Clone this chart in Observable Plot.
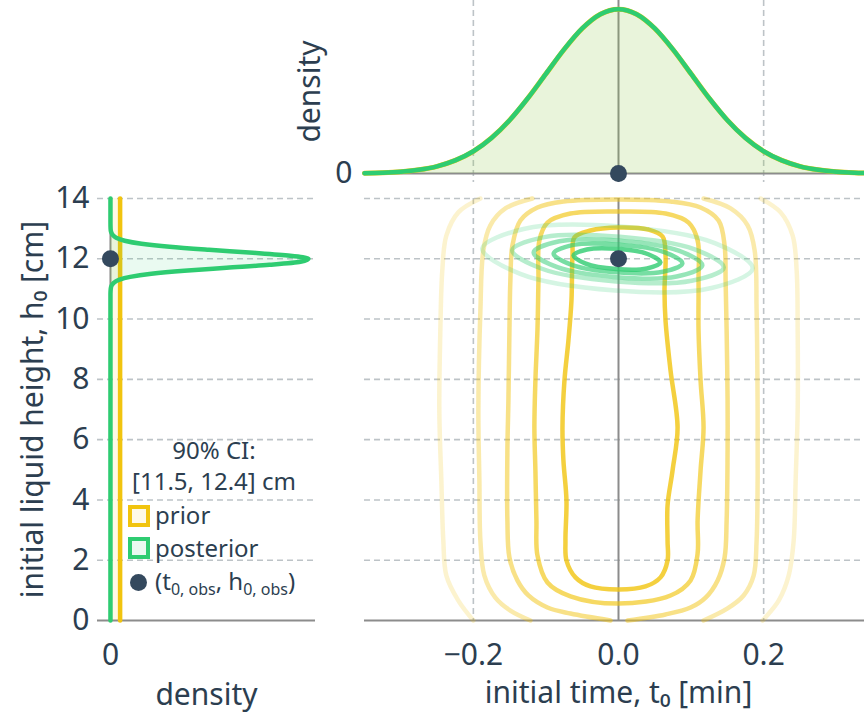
<!DOCTYPE html>
<html><head><meta charset="utf-8">
<script src="https://cdn.jsdelivr.net/npm/d3@7"></script>
<script src="https://cdn.jsdelivr.net/npm/@observablehq/plot@0.6"></script>
<style>
html,body{margin:0;padding:0;background:#fff;overflow:hidden;}
#wrap{position:relative;width:864px;height:717px;font-family:"Noto Sans",sans-serif;color:#2c3e50;}
#wrap svg{position:absolute;left:0;top:0;}
.lg{position:absolute;font-size:24px;line-height:1;white-space:nowrap;transform:translateY(-50%);}
.lgc{position:absolute;font-size:24px;line-height:1;white-space:nowrap;transform:translate(-50%,-50%);}
.sq{position:absolute;width:14px;height:14px;border:4px solid;}
.lg sub{font-size:16px;vertical-align:-5px;}
</style></head><body><div id="wrap"></div>
<script>
// ---------- data ----------
const tTicks = [-0.2, 0.0, 0.2];
const hTicks = [0, 2, 4, 6, 8, 10, 12, 14];
const densTicks = [0];
const obsT = 0.0, obsH = 12.0;
const ciLow = 11.5, ciHigh = 12.4;

// marginal density of t0 (prior and posterior coincide)
const tGrid = [-0.35,-0.325,-0.3,-0.275,-0.25,-0.225,-0.2,-0.175,-0.15,-0.125,-0.1,-0.075,-0.05,-0.025,0,
               0.025,0.05,0.075,0.1,0.125,0.15,0.175,0.2,0.225,0.25,0.275,0.3,0.325,0.35];
const tPrior = [0.009,0.020,0.044,0.091,0.175,0.318,0.540,0.863,1.295,1.827,2.420,3.012,3.521,3.867,3.99,
                3.867,3.521,3.012,2.420,1.827,1.295,0.863,0.540,0.318,0.175,0.091,0.044,0.020,0.009];
const tPosterior = [0.009,0.020,0.044,0.091,0.175,0.318,0.540,0.863,1.295,1.827,2.420,3.012,3.521,3.867,3.99,
                3.867,3.521,3.012,2.420,1.827,1.295,0.863,0.540,0.318,0.175,0.091,0.044,0.020,0.009];

// marginal density of h0
const hPriorGrid = [0, 14];
const hPriorDens = [0.0714, 0.0714];
const hPostGrid = [0,10.8,10.9,11.0,11.1,11.2,11.3,11.4,11.5,11.6,11.7,11.8,11.9,12.0,12.1,12.2,12.3,12.4,12.5,12.6,12.7,12.8,12.9,13.0,13.2,14];
const hPostDens = [0,0,0.0005,0.002,0.007,0.023,0.062,0.146,0.303,0.546,0.859,1.177,1.407,1.466,1.331,1.055,0.729,0.438,0.230,0.105,0.042,0.015,0.004,0.001,0,0];

// prior joint-density contours (outer -> inner), [t0, h0]
const prior1L = [[-0.1903,14],[-0.2207,13.54],[-0.2372,12.77],[-0.2428,11.61],[-0.2455,9.62],[-0.2469,6.97],[-0.2441,4.64],[-0.2414,2.65],[-0.2372,1.49],[-0.2207,0.66],[-0.2,0]];
const prior1R = [[0.1959,14],[0.2234,13.54],[0.24,12.77],[0.2455,11.61],[0.2469,9.62],[0.2469,6.97],[0.2441,4.64],[0.2414,2.65],[0.2345,1.49],[0.2207,0.66],[0.1986,0]];
const prior2L = [[-0.1186,14],[-0.1559,13.67],[-0.1766,13.11],[-0.1862,12.28],[-0.1903,10.29],[-0.1931,6.97],[-0.1917,4.64],[-0.1903,2.65],[-0.1848,1.49],[-0.1697,0.76],[-0.149,0.33],[-0.1214,0]];
const prior2R = [[0.1172,14],[0.1545,13.67],[0.1779,13.11],[0.1876,12.28],[0.1903,10.29],[0.1917,6.97],[0.1917,4.64],[0.1903,2.65],[0.1862,1.49],[0.1724,0.83],[0.1503,0.40],[0.1172,0]];
const prior3 = [[-0.011,0],[-0.0662,0.23],[-0.0979,0.43],[-0.1241,0.83],[-0.1393,1.33],[-0.1503,2.09],[-0.1531,3.32],[-0.1531,5.64],[-0.1517,7.30],[-0.1503,9.62],[-0.149,11.28],[-0.1462,12.44],[-0.1352,13.27],[-0.1117,13.70],[-0.0759,13.90],[0,13.97],[0.0717,13.90],[0.1131,13.70],[0.1379,13.27],[0.1462,12.44],[0.1476,11.28],[0.149,9.62],[0.1503,7.30],[0.1503,5.64],[0.149,3.32],[0.1462,2.09],[0.1366,1.33],[0.12,0.76],[0.0993,0.43],[0.0648,0.20],[0.0124,0]];
const prior4 = [[0,13.57],[0.0648,13.50],[0.0966,13.20],[0.109,12.61],[0.1103,11.28],[0.1103,9.62],[0.1131,7.96],[0.1172,6.40],[0.1131,4.98],[0.109,3.32],[0.109,2.22],[0.0993,1.33],[0.0717,0.83],[0,0.56],[-0.0662,0.80],[-0.0979,1.26],[-0.1117,2.16],[-0.1131,3.32],[-0.1145,4.98],[-0.1159,6.40],[-0.1145,7.96],[-0.1117,9.62],[-0.1103,11.28],[-0.109,12.61],[-0.0979,13.20],[-0.0662,13.50]];
const prior5 = [[0,13.04],[0.0414,12.97],[0.0607,12.74],[0.0648,12.11],[0.0634,10.95],[0.0648,9.95],[0.0717,8.29],[0.0814,6.40],[0.0745,4.98],[0.0676,3.82],[0.0676,2.65],[0.0676,1.99],[0.0579,1.43],[0.0372,1.13],[0,1.03],[-0.0386,1.13],[-0.0593,1.43],[-0.0717,1.99],[-0.0731,2.65],[-0.0717,3.98],[-0.0759,5.31],[-0.0772,6.40],[-0.0745,7.96],[-0.069,9.29],[-0.0648,10.62],[-0.0634,12.11],[-0.0607,12.71],[-0.0386,12.94]];

// posterior joint-density contours (outer -> inner)
const post1 = [[0.1849,11.68],[0.1281,11.03],[-0.0046,10.95],[-0.1354,11.50],[-0.1877,12.34],[-0.1309,12.99],[0.0018,13.07],[0.1327,12.52]];
const post2 = [[0.1451,11.71],[0.1007,11.27],[-0.0032,11.25],[-0.1055,11.67],[-0.1465,12.28],[-0.1021,12.72],[0.0018,12.73],[0.1041,12.32]];
const post3 = [[0.1155,11.78],[0.0801,11.41],[-0.0026,11.39],[-0.0843,11.72],[-0.1169,12.21],[-0.0815,12.58],[0.0012,12.60],[0.0829,12.27]];
const post4 = [[0.0880,11.85],[0.0610,11.57],[-0.0022,11.55],[-0.0644,11.80],[-0.0894,12.17],[-0.0623,12.46],[0.0008,12.47],[0.0630,12.22]];
const post5 = [[0.0578,11.88],[0.0394,11.68],[-0.0032,11.66],[-0.0451,11.84],[-0.0619,12.11],[-0.0436,12.31],[-0.0010,12.33],[0.0410,12.15]];

const levelOpacity = [0.2, 0.35, 0.5, 0.65, 0.8];

(function () {
// ---------- style ----------
const YELLOW = "#f1c40f", GREEN = "#2ecc71", DOT = "#34495e", TEXT = "#2c3e50";
const GRID = "#bdc3c7", ZERO = "#8c8c8c";
const FONT = "'Noto Sans', sans-serif";
const FS = 30;
const LW = 4.5;
const W = 864, H = 717;
const dashed = {stroke: GRID, strokeWidth: 1.6, strokeDasharray: "6,4"};
const zero = {stroke: ZERO, strokeWidth: 2};
const baseStyle = {background: "transparent", fontFamily: FONT, color: TEXT};
const title = {fontSize: FS, fill: TEXT, textAnchor: "middle", lineAnchor: "middle"};

const rows = (pts, id, op) => pts.map(([t, h]) => ({t, h, id, op}));
const openPrior = [
  ...rows(prior1L, "1L", levelOpacity[0]), ...rows(prior1R, "1R", levelOpacity[0]),
  ...rows(prior2L, "2L", levelOpacity[1]), ...rows(prior2R, "2R", levelOpacity[1]),
  ...rows(prior3, "3", levelOpacity[2])
];
const closedPrior = [...rows(prior4, "4", levelOpacity[3]), ...rows(prior5, "5", levelOpacity[4])];
const closedPost = [post1, post2, post3, post4, post5].flatMap((p, i) => rows(p, "g" + i, levelOpacity[i]));

const tPriorRows = tGrid.map((t, i) => ({t, d: tPrior[i]}));
const tPostRows = tGrid.map((t, i) => ({t, d: tPosterior[i]}));
const hPriorRows = hPriorGrid.map((h, i) => ({h, d: hPriorDens[i]}));
const hPostRows = hPostGrid.map((h, i) => ({h, d: hPostDens[i]}));
const fmt1 = d3.format(".1f");
const fmt0 = d3.format("d");

// ---------- main joint plot ----------
const mainPlot = Plot.plot({
  width: W, height: H,
  marginLeft: 364, marginRight: -8, marginTop: 198, marginBottom: 97,
  style: baseStyle,
  opacity: {type: "identity"},
  x: {domain: [-0.35, 0.35]},
  y: {domain: [0, 14], axis: null},
  marks: [
    Plot.ruleY(hTicks.filter(v => v !== 0), dashed),
    Plot.ruleX(tTicks.filter(v => v !== 0), dashed),
    Plot.ruleX([0], zero),
    Plot.ruleY([0], zero),
    Plot.line(openPrior, {x: "t", y: "h", z: "id", stroke: YELLOW, strokeOpacity: "op", strokeWidth: LW, curve: "catmull-rom"}),
    Plot.line(closedPrior, {x: "t", y: "h", z: "id", stroke: YELLOW, strokeOpacity: "op", strokeWidth: LW, curve: "catmull-rom-closed"}),
    Plot.line(closedPost, {x: "t", y: "h", z: "id", stroke: GREEN, strokeOpacity: "op", strokeWidth: LW, curve: "catmull-rom-closed"}),
    Plot.dot([{t: obsT, h: obsH}], {x: "t", y: "h", r: 8.5, fill: DOT}),
    Plot.axisX(tTicks, {tickSize: 0, tickPadding: 23, fontSize: FS, tickFormat: fmt1, label: null}),
    Plot.text(["initial time, t₀ [min]"], {frameAnchor: "bottom", dy: 73, ...title})
  ]
});

// ---------- top marginal (t0) ----------
const topPlot = Plot.plot({
  width: W, height: H,
  marginLeft: 364, marginRight: -8, marginTop: 0, marginBottom: H - 182,
  style: baseStyle,
  x: {domain: [-0.35, 0.35], axis: null},
  y: {domain: [-0.218, 4.2]},
  marks: [
    Plot.ruleX(tTicks.filter(v => v !== 0), dashed),
    Plot.ruleX([0], zero),
    Plot.ruleY([0], zero),
    Plot.areaY(tPriorRows, {x: "t", y: "d", fill: YELLOW, fillOpacity: 0.1, curve: "monotone-x"}),
    Plot.areaY(tPostRows, {x: "t", y: "d", fill: GREEN, fillOpacity: 0.1, curve: "monotone-x"}),
    Plot.lineY(tPriorRows, {x: "t", y: "d", stroke: YELLOW, strokeWidth: LW + 0.5, curve: "monotone-x"}),
    Plot.lineY(tPostRows, {x: "t", y: "d", stroke: GREEN, strokeWidth: LW, curve: "monotone-x"}),
    Plot.dot([{t: obsT, d: 0}], {x: "t", y: "d", r: 8.5, fill: DOT}),
    Plot.axisY(densTicks, {tickSize: 0, tickPadding: 12, fontSize: FS, tickFormat: fmt0, label: null}),
    Plot.text(["density"], {frameAnchor: "left", dx: -54, rotate: -90, ...title})
  ]
});

// ---------- left marginal (h0) ----------
const leftPlot = Plot.plot({
  width: W, height: H,
  marginLeft: 97, marginRight: W - 315, marginTop: 198, marginBottom: 97,
  style: baseStyle,
  x: {domain: [-0.096, 1.518]},
  y: {domain: [0, 14]},
  marks: [
    Plot.ruleY(hTicks.filter(v => v !== 0), dashed),
    Plot.ruleY([0], zero),
    Plot.ruleX([0], zero),
    Plot.areaX(hPriorRows, {y: "h", x: "d", fill: YELLOW, fillOpacity: 0.1}),
    Plot.lineX(hPriorRows, {y: "h", x: "d", stroke: YELLOW, strokeWidth: LW}),
    Plot.areaX(hPostRows, {y: "h", x: "d", fill: GREEN, fillOpacity: 0.1, curve: "monotone-y"}),
    Plot.lineX(hPostRows, {y: "h", x: "d", stroke: GREEN, strokeWidth: LW, curve: "monotone-y"}),
    Plot.dot([{d: 0, h: obsH}], {x: "d", y: "h", r: 8.5, fill: DOT}),
    Plot.axisY(hTicks, {tickSize: 0, tickPadding: 8, fontSize: FS, tickFormat: fmt0, label: null}),
    Plot.axisX(densTicks, {tickSize: 0, tickPadding: 23, fontSize: FS, tickFormat: fmt0, label: null}),
    Plot.text(["initial liquid height, h₀ [cm]"], {frameAnchor: "left", dx: -64, rotate: -90, ...title}),
    Plot.text(["density"], {frameAnchor: "bottom", dy: 75, ...title})
  ]
});

const wrap = document.getElementById("wrap");
wrap.append(topPlot, leftPlot, mainPlot);

// ---------- legend ----------
const lg = document.createElement("div");
lg.innerHTML = `
  <div class="lgc" style="left:214px;top:450px">90% CI:</div>
  <div class="lgc" style="left:214px;top:481px">[${ciLow.toFixed(1)}, ${ciHigh.toFixed(1)}] cm</div>
  <div class="sq" style="left:128px;top:505px;border-color:${YELLOW};background:#fef9e7"></div>
  <div class="lg" style="left:155px;top:515px">prior</div>
  <div class="sq" style="left:128px;top:537px;border-color:${GREEN};background:#eaf9f1"></div>
  <div class="lg" style="left:155px;top:548px">posterior</div>
  <div style="position:absolute;left:129.5px;top:574px;width:17px;height:17px;border-radius:50%;background:${DOT}"></div>
  <div class="lg" style="left:155px;top:583px">(t<sub>0, obs</sub>, h<sub>0, obs</sub>)</div>`;
wrap.append(lg);
})();
</script></body></html>
